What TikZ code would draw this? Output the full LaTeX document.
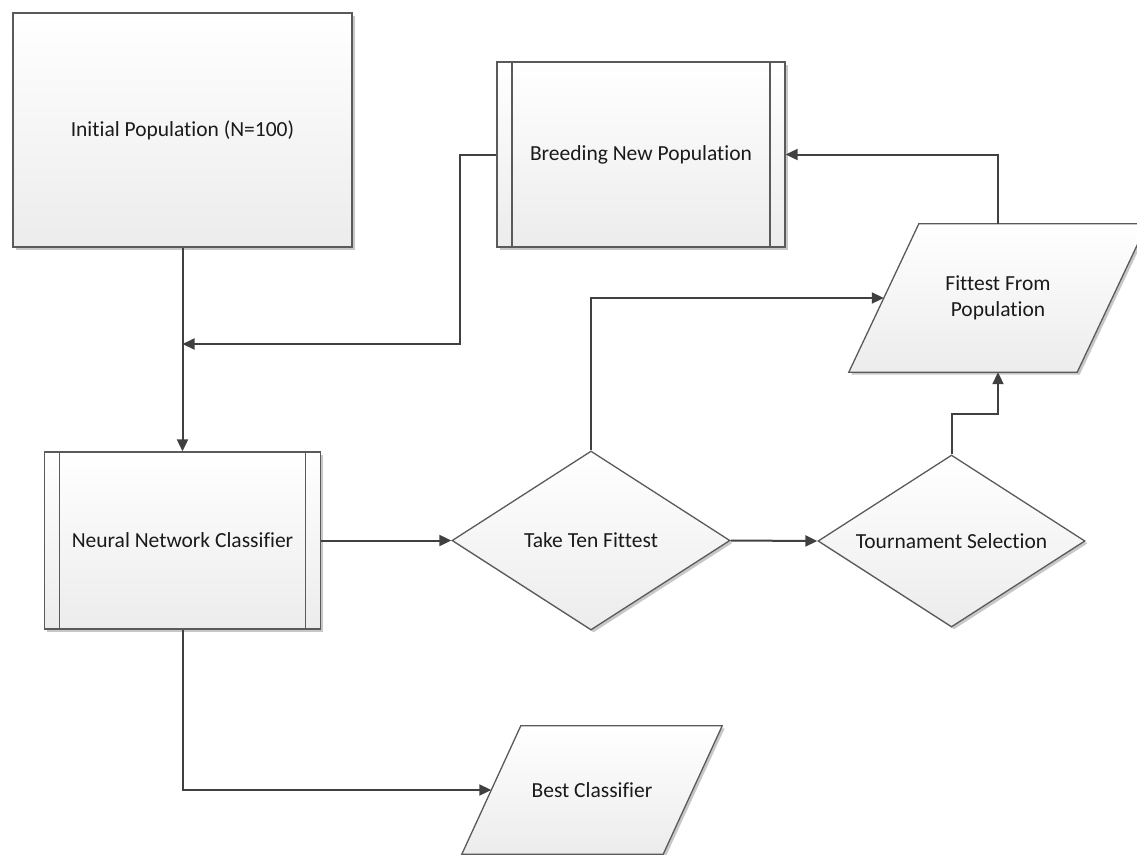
\documentclass[tikz,border=0pt]{standalone}
\usepackage{fontspec}
\setmainfont{Carlito}[Ligatures=NoCommon]
\usetikzlibrary{shapes.geometric,arrows.meta,shadows,backgrounds}

\definecolor{edgegray}{HTML}{5A5A5A}
\definecolor{wiregray}{HTML}{404040}
\definecolor{fillbottom}{HTML}{ECECEC}
\definecolor{inkblack}{HTML}{1A1A1A}

\tikzset{
  bodyfill/.style={draw=edgegray, line width=1.3pt, top color=white,
    bottom color=fillbottom,
    drop shadow={shadow xshift=2.5pt, shadow yshift=-2.5pt, opacity=0.22, fill=black}},
  labeltext/.style={text=inkblack, inner sep=0pt, align=center,
    font=\fontsize{21.5}{26}\selectfont},
  shapebase/.style={bodyfill, labeltext},
  plainbox/.style={shapebase, rectangle},
  procbox/.style={shapebase, rectangle,
    path picture={
      \draw[edgegray, line width=1.3pt]
        ([xshift=15pt]path picture bounding box.north west) --
        ([xshift=15pt]path picture bounding box.south west);
      \draw[edgegray, line width=1.3pt]
        ([xshift=-15pt]path picture bounding box.north east) --
        ([xshift=-15pt]path picture bounding box.south east);
    }},
  decision/.style={shapebase, diamond, aspect=1.5},
  % data node: the node is the mid-height band, the slanted frame is drawn around it
  iotext/.style={labeltext, rectangle},
  conn/.style={draw=wiregray, line width=2pt, line join=miter,
    -{Triangle[length=12pt,width=11pt]}},
}

\begin{document}
\begin{tikzpicture}[x=1pt, y=-1pt]
  \useasboundingbox (0,0) rectangle (1137,854);

  % process steps
  \node[plainbox, minimum width=339pt, minimum height=234pt] (init) at (182.5,130) {Initial Population (N=100)};
  \node[procbox, minimum width=288pt, minimum height=185pt] (breed) at (641,154.5) {Breeding New Population};
  \node[procbox, minimum width=276pt, minimum height=177pt] (nn) at (182.5,540.5) {Neural Network Classifier};

  % decisions
  \node[decision, minimum width=278pt, minimum height=179pt] (take) at (591,540.5) {Take Ten Fittest};
  \node[decision, minimum width=267pt, minimum height=172pt] (tour) at (951.5,541) {Tournament Selection};

  % data (input/output)
  \node[iotext, minimum width=228pt, minimum height=148pt] (fit) at (998,298) {Fittest From\\Population};
  \node[iotext, minimum width=201pt, minimum height=128pt] (best) at (592,790) {Best Classifier};

  \begin{scope}[on background layer]
    \path[bodyfill] ([xshift=35pt]fit.north west) -- ([xshift=35pt]fit.north east)
      -- ([xshift=-35pt]fit.south east) -- ([xshift=-35pt]fit.south west) -- cycle;
    \path[bodyfill] ([xshift=29.5pt]best.north west) -- ([xshift=29.5pt]best.north east)
      -- ([xshift=-29.5pt]best.south east) -- ([xshift=-29.5pt]best.south west) -- cycle;
  \end{scope}

  % bend points
  \coordinate (join) at (182.5,344);
  \coordinate (loopcorner) at (460,344);
  \coordinate (tourbend) at (951.5,414);

  % connectors
  \draw[conn] (init.south) -- (nn.north);
  \draw[conn] (breed.west) -| (loopcorner) -- (join);
  \draw[conn] (nn.east) -- (take.west);
  \draw[conn] (take.east) -- (tour.west);
  \draw[conn] (take.north) |- (fit.west);
  \draw[conn] (tour.north) -- (tourbend) -| (fit.south);
  \draw[conn] (fit.north) |- (breed.east);
  \draw[conn] (nn.south) |- (best.west);
\end{tikzpicture}
\end{document}
